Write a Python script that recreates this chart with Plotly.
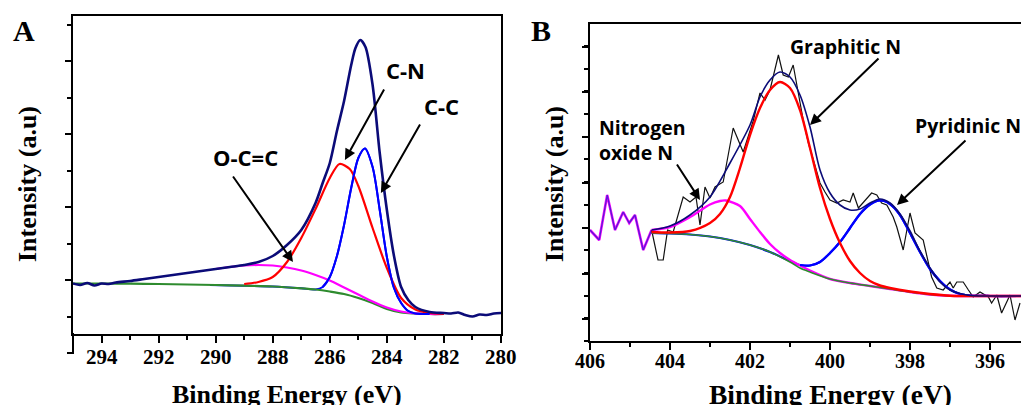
import plotly.graph_objects as go

# ---------------- Panel A : C 1s ----------------
a_raw_E = [295, 294.75, 294.5, 294.25, 294, 293.75, 293.5, 293, 292.5, 292, 291.5, 291, 290.5, 290,
           289.5, 289, 288.5, 288, 287.5, 287, 286.5, 286.25, 286, 285.75, 285.5, 285.25, 285.1,
           284.93, 284.75, 284.5, 284.25, 284, 283.75, 283.5, 283.25, 283, 282.5, 282, 281.75,
           281.5, 281.25, 281, 280.75, 280.5, 280.25, 280]
a_raw_I = [69.5, 68, 70, 67.5, 69.5, 69, 70.5, 72, 74, 76, 78, 80, 82, 84,
           86, 88, 91, 97, 108, 123, 150, 170, 190, 222, 252, 288, 305,
           313, 306, 268, 200, 143, 97, 66, 53, 46, 41, 40, 39.5,
           40.5, 38, 36.5, 38.5, 38, 39.5, 40]

a_bg_E = [295, 294, 293, 292, 291, 290, 289, 288, 287, 286.5, 286, 285.5, 285, 284.5, 284, 283.5, 283, 282.5, 282]
a_bg_I = [69.5, 69.5, 69.3, 69, 68.5, 68, 67.3, 66.5, 64.7, 63.5, 61.5, 59, 55, 50, 44, 40.5, 39.5, 39, 39]

a_oc_E = [290, 289.5, 289, 288.5, 288, 287.5, 287, 286.5, 286, 285.5, 285, 284.5, 284, 283.5, 283, 282.5, 282]
a_oc_I = [84, 86, 87.5, 88, 87.5, 85.5, 82.5, 78, 72.5, 65.5, 58.5, 51.5, 45.5, 41.5, 39.7, 39, 39]

a_cn_E = [289, 288.5, 288, 287.5, 287, 286.5, 286, 285.66, 285.3, 285, 284.5, 284, 283.5, 283, 282.5, 282]
a_cn_I = [69, 71, 76, 91, 115, 144, 175, 189, 184, 167, 125, 85, 55, 43.5, 40, 39]

a_cc_E = [290.2, 289, 288, 287, 286.5, 286.25, 286, 285.75, 285.5, 285.25, 285, 284.77, 284.5, 284.25,
          284, 283.75, 283.5, 283.25, 283, 282.5]
a_cc_I = [68, 67.3, 66.5, 64.7, 63.5, 66, 76, 97, 128, 165, 195, 204.5, 186, 143,
          96, 65, 50, 42, 39.5, 39]

# ---------------- Panel B : N 1s ----------------
b_pre_E = [406, 405.77, 405.57, 405.375, 405.17, 405.02, 404.875, 404.67, 404.46]
b_pre_I = [111, 101, 146, 111, 129, 118, 126, 91, 111]

b_raw_E = [404.46, 404.3, 404.17, 404.06, 403.92, 403.67, 403.5, 403.35, 403.25, 403.125, 403.0,
           402.875, 402.67, 402.42, 402.17, 401.92, 401.75, 401.625, 401.5, 401.29, 401.17, 401.04,
           400.92, 400.79, 400.67, 400.54, 400.42, 400.25, 400.125, 400.0, 399.83, 399.67, 399.5,
           399.42, 399.29, 398.96, 398.83, 398.71, 398.58, 398.42, 398.33, 398.17, 398.0, 397.875,
           397.67, 397.54, 397.46, 397.33, 397.17, 397.0, 396.92, 396.83, 396.67, 396.54, 396.42,
           396.25, 396.04, 395.96, 395.83, 395.71, 395.5, 395.375, 395.25]
b_raw_I = [111, 81, 81, 111, 109, 144, 139, 144, 116, 154, 143,
           154, 159, 213, 189, 220, 248, 241, 251, 286, 266, 264,
           276, 246, 221, 198, 181, 158, 149, 141, 138, 141, 139,
           148, 133, 148, 146, 138, 136, 124, 114, 91, 128, 108,
           101, 76, 64, 53, 51, 59, 53, 59, 59, 51, 44,
           49, 44, 38, 46, 28, 46, 21, 38]

b_env_E = [404.46, 404.0, 403.5, 403.0, 402.5, 402.0, 401.75, 401.5, 401.25, 401.0, 400.75, 400.5,
           400.25, 400.0, 399.75, 399.5, 399.25, 399.0, 398.75, 398.5, 398.25, 398.0, 397.75, 397.5,
           397.25, 397.0, 396.75, 396.5, 396.0, 395.5, 395.225]
b_env_I = [111, 115, 126, 144, 178, 216, 244, 261, 269, 264, 246, 214,
           171, 148, 136, 131, 132, 138, 142, 138, 127, 110, 90, 73,
           59, 51, 47.5, 45.5, 45, 45, 45]

b_gr_E = [404.46, 404.0, 403.5, 403.0, 402.75, 402.5, 402.25, 402.0, 401.75, 401.5, 401.25, 401.0,
          400.75, 400.5, 400.25, 400.0, 399.75, 399.5, 399.25, 399.0, 398.75, 398.5, 398.0, 397.5,
          397.0, 396.0, 395.225]
b_gr_I = [109, 108.5, 110, 118, 127, 144, 173, 206, 233, 251, 259, 253,
          231, 193, 153, 122, 98, 80, 68, 60, 55.5, 53, 49.5, 47,
          45.3, 45, 45]

b_ox_E = [404.46, 404.0, 403.5, 403.0, 402.75, 402.6, 402.25, 402.0, 401.75, 401.5, 401.25, 401.0,
          400.75, 400.5, 400.0, 399.5, 399.0, 398.5, 398.0, 397.5, 397.0, 396.5, 396.0, 395.225]
b_ox_I = [111, 114, 124, 136.5, 140, 140.5, 135, 122, 109, 97, 88, 81,
          75.5, 70.5, 62, 58, 55, 52, 49, 46.5, 45.3, 45, 45, 45]

b_py_E = [404.46, 404.0, 403.5, 403.0, 402.5, 402.0, 401.5, 401.0, 400.75, 400.5, 400.25, 400.0,
          399.75, 399.5, 399.25, 399.0, 398.75, 398.5, 398.25, 398.0, 397.75, 397.5, 397.25, 397.0,
          396.75, 396.5, 396.0, 395.225]
b_py_I = [108, 107.5, 106.5, 104.5, 101, 96, 89, 80, 76, 75.5, 79, 88,
          99, 113, 127, 136.5, 140.5, 137, 126, 108, 89, 72, 60, 51.5,
          47, 45.5, 45, 45]

b_bg_E = [404.46, 404.0, 403.5, 403.0, 402.5, 402.0, 401.5, 401.0, 400.75, 400.5, 400.0, 399.5,
          399.0, 398.5, 398.0, 397.5, 397.0, 396.5, 396.0, 395.225]
b_bg_I = [108, 107.5, 106.5, 104.5, 101, 96, 89, 79, 73, 69, 62, 58,
          55, 52, 49, 46.5, 45.3, 45, 45, 45]

x_ticks_a = [294, 292, 290, 288, 286, 284, 282, 280]
x_ticks_b = [406, 404, 402, 400, 398, 396]

NAVY = "#0b0b78"
RED = "#ff0000"
BLUE = "#0000ff"
MAG = "#ff00ff"
GREEN = "#2e8b2e"

W, H = 1021, 405


def py(p):
    """figure pixel row -> paper fraction"""
    return 1 - p / H


fig = go.Figure()


def line(x, y, color, width, ax="x", ay="y", smooth=True):
    fig.add_trace(go.Scatter(
        x=x, y=y, mode="lines", xaxis=ax, yaxis=ay,
        line=dict(color=color, width=width, shape="spline" if smooth else "linear",
                  smoothing=0.8 if smooth else None),
        hoverinfo="skip", showlegend=False))


# Panel A
line(a_cc_E, a_cc_I, BLUE, 2.0)
line(a_bg_E, a_bg_I, GREEN, 2.2)
line(a_oc_E, a_oc_I, MAG, 2.2)
line(a_cn_E, a_cn_I, RED, 2.2)
line(a_cc_E[5:], a_cc_I[5:], BLUE, 2.0)
line(a_raw_E, a_raw_I, NAVY, 2.6)

# Panel B
line(b_pre_E, b_pre_I, MAG, 2.6, "x2", "y2", smooth=False)
line(b_pre_E, b_pre_I, "#5a1ad8", 1.3, "x2", "y2", smooth=False)
line(b_raw_E, b_raw_I, "#111111", 1.2, "x2", "y2", smooth=False)
line(b_py_E, b_py_I, BLUE, 2.2, "x2", "y2")
line(b_ox_E, b_ox_I, MAG, 2.4, "x2", "y2")
line(b_bg_E, b_bg_I, GREEN, 1.6, "x2", "y2")
line(b_py_E[8:], b_py_I[8:], BLUE, 2.2, "x2", "y2")
line(b_gr_E, b_gr_I, RED, 2.4, "x2", "y2")
line(b_env_E, b_env_I, NAVY, 1.6, "x2", "y2")

common_x = dict(showgrid=False, zeroline=False, showline=True, linecolor="black", linewidth=2,
                ticks="outside", ticklen=7, tickwidth=2, tickcolor="black", showticklabels=False,
                mirror=True, dtick=2,
                minor=dict(dtick=1, ticks="outside", ticklen=4, tickwidth=2, tickcolor="black"))
common_y = dict(showgrid=False, zeroline=False, showline=True, linecolor="black", linewidth=2,
                ticks="outside", ticklen=6, tickwidth=2, tickcolor="black", showticklabels=False)

fig.update_layout(
    width=W, height=H, margin=dict(l=0, r=0, t=0, b=0),
    paper_bgcolor="white", plot_bgcolor="white", showlegend=False,
    xaxis=dict(domain=[73 / W, 501 / W], range=[295, 280], anchor="y", tick0=280, **common_x),
    yaxis=dict(domain=[py(334), py(16)], range=[19, 337], anchor="x", mirror=True,
               tick0=0, dtick=73, minor=dict(dtick=36.5, ticks="outside", ticklen=4, tickwidth=2,
                                            tickcolor="black"), **common_y),
    xaxis2=dict(domain=[590 / W, 1.0], range=[406, 395.225], anchor="y2", tick0=396, **common_x),
    yaxis2=dict(domain=[py(341), py(24)], range=[0, 317], anchor="x2",
                tick0=22, dtick=45.4, minor=dict(dtick=22.7, ticks="outside", ticklen=4, tickwidth=2,
                                                tickcolor="black"), **common_y),
)

# panel A: the left axis line runs a little below the bottom axis, ending in a tick
fig.add_shape(type="line", xref="x domain", yref="paper", x0=0, x1=0, y0=py(354), y1=py(333),
              line=dict(color="black", width=2))
fig.add_shape(type="line", xref="paper", yref="paper", x0=67 / W, x1=74 / W, y0=py(353), y1=py(353),
              line=dict(color="black", width=2))

SERIF = "Liberation Serif"
SANS = "Open Sans"

ann = []
C = dict(xanchor="center", yanchor="middle", showarrow=False)
# panel letters
ann.append(dict(text="<b>A</b>", xref="paper", yref="paper", x=24 / W, y=py(30),
                font=dict(family=SERIF, size=30, color="black"), **C))
ann.append(dict(text="<b>B</b>", xref="paper", yref="paper", x=541 / W, y=py(30),
                font=dict(family=SERIF, size=30, color="black"), **C))
# axis titles
ann.append(dict(text="<b>Intensity (a.u)</b>", xref="paper", yref="paper", x=27 / W, y=py(184),
                textangle=-90, font=dict(family=SERIF, size=26, color="black"), **C))
ann.append(dict(text="<b>Intensity (a.u)</b>", xref="paper", yref="paper", x=554 / W, y=py(184),
                textangle=-90, font=dict(family=SERIF, size=26, color="black"), **C))
ann.append(dict(text="<b>Binding Energy (eV)</b>", xref="paper", yref="paper", x=286.5 / W, y=py(394),
                font=dict(family=SERIF, size=26, color="black"), **C))
ann.append(dict(text="<b>Binding Energy (eV)</b>", xref="paper", yref="paper", x=830 / W, y=py(394),
                font=dict(family=SERIF, size=27.5, color="black"), **C))

# tick labels
for v in x_ticks_a:
    ann.append(dict(text="<b>%d</b>" % v, xref="x", yref="paper", x=v, y=py(357),
                    font=dict(family=SERIF, size=21, color="black"), **C))
for v in x_ticks_b:
    ann.append(dict(text="<b>%d</b>" % v, xref="x2", yref="paper", x=v, y=py(361),
                    font=dict(family=SERIF, size=20, color="black"), **C))

LBL_A = dict(family=SANS, size=22, color="black")
LBL_B = dict(family=SANS, size=19.5, color="black")
ARW = dict(showarrow=True, arrowhead=2, arrowsize=1.1, arrowwidth=2, arrowcolor="black", text="")

# panel A labels and arrows
ann.append(dict(text="<b>C-N</b>", x=283.33, y=283, xref="x", yref="y", showarrow=False, font=LBL_A))
ann.append(dict(text="<b>C-C</b>", x=282.07, y=247, xref="x", yref="y", showarrow=False, font=LBL_A))
ann.append(dict(text="<b>O-C=C</b>", x=288.94, y=196, xref="x", yref="y", showarrow=False, font=LBL_A))
ann.append(dict(x=285.47, y=193, xref="x", yref="y", ax=40, ay=-72, **ARW))
ann.append(dict(x=284.21, y=160, xref="x", yref="y", ax=40, ay=-70, **ARW))
ann.append(dict(x=287.29, y=91, xref="x", yref="y", ax=-61, ay=-87, **ARW))

# panel B labels and arrows
ann.append(dict(text="<b>Graphitic N</b>", x=399.625, y=294, xref="x2", yref="y2", showarrow=False, font=LBL_B))
ann.append(dict(text="<b>Pyridinic N</b>", x=396.55, y=215, xref="x2", yref="y2", showarrow=False, font=LBL_B))
ann.append(dict(text="<b>Nitrogen<br>oxide N</b>", x=405.825, y=201, xref="x2", yref="y2", showarrow=False,
                xanchor="left", align="left", font=LBL_B))
ann.append(dict(x=400.5, y=216, xref="x2", yref="y2", ax=70, ay=-68, **ARW))
ann.append(dict(x=398.325, y=136, xref="x2", yref="y2", ax=70, ay=-66, **ARW))
ann.append(dict(x=403.25, y=141, xref="x2", yref="y2", ax=-24, ay=-37, **ARW))

fig.update_layout(annotations=ann)
fig.write_html("out.html")
